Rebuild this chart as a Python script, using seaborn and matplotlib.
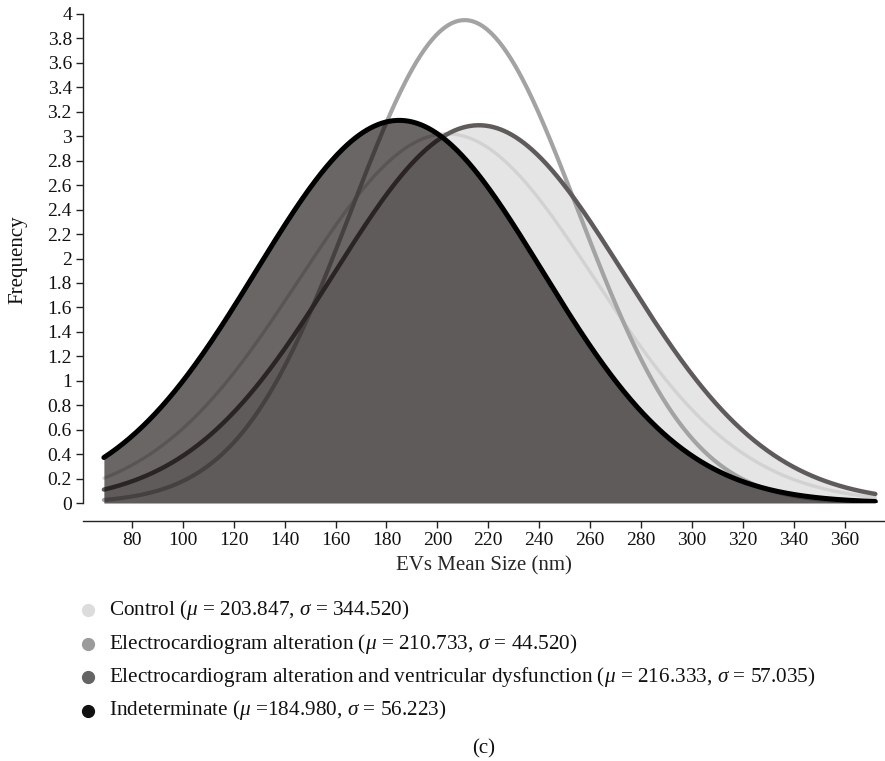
import numpy as np
import pandas as pd
import matplotlib
matplotlib.use("Agg")
import matplotlib.pyplot as plt
import seaborn as sns
from matplotlib.lines import Line2D

# ---------------- data ----------------
groups = ["Control",
          "Electrocardiogram alteration",
          "Electrocardiogram alteration and ventricular dysfunction",
          "Indeterminate"]
legend_mu = ["203.847", "210.733", "216.333", "184.980"]
legend_sigma = ["344.520", "44.520", "57.035", "56.223"]
# curve parameters
curve_mu = [203.8, 210.7, 216.3, 185.0]
curve_sigma = [58.0, 44.5, 57.0, 56.2]
curve_peak = [3.02, 3.95, 3.09, 3.13]
x_start, x_end = 69, 372
x_ticks = [80, 100, 120, 140, 160, 180, 200, 220, 240, 260, 280, 300, 320, 340, 360]
y_ticks = [0, 0.2, 0.4, 0.6, 0.8, 1, 1.2, 1.4, 1.6, 1.8, 2, 2.2, 2.4, 2.6, 2.8,
           3, 3.2, 3.4, 3.6, 3.8, 4]
y_tick_labels = ["0", "0.2", "0.4", "0.6", "0.8", "1", "1.2", "1.4", "1.6", "1.8", "2",
                 "2.2", "2.4", "2.6", "2.8", "3", "3.2", "3.4", "3.6", "3.8", "4"]

# ---------------- style ----------------
sns.set_theme(style="white")
plt.rcParams["font.family"] = ["Liberation Serif", "DejaVu Serif"]
plt.rcParams["mathtext.fontset"] = "custom"
plt.rcParams["mathtext.it"] = "Liberation Serif:italic"
plt.rcParams["mathtext.rm"] = "Liberation Serif"

W, H = 885, 761
fig = plt.figure(figsize=(W / 100, H / 100), dpi=100)
ax = fig.add_axes([83 / W, 1 - 503 / H, (W - 83) / W, (503 - 14) / H])

xs = np.linspace(x_start, x_end, 600)
frames = []
for g, m, s, p in zip(groups, curve_mu, curve_sigma, curve_peak):
    frames.append(pd.DataFrame({"x": xs, "y": p * np.exp(-0.5 * ((xs - m) / s) ** 2), "group": g}))
df = pd.concat(frames, ignore_index=True)

line_colors = ["#cfcfcf", "#a3a3a3", "#5f5b5b", "#000000"]
line_widths = [2.4, 3.0, 3.2, 3.6]
line_alpha = [0.85, 1.0, 1.0, 1.0]
line_z = [3, 3.2, 3.5, 6]

for i, g in enumerate(groups):
    d = df[df["group"] == g]
    sns.lineplot(data=d, x="x", y="y", ax=ax, color=line_colors[i], lw=line_widths[i],
                 alpha=line_alpha[i], zorder=line_z[i], legend=False)

d = df[df["group"] == groups[2]]
ax.fill_between(d["x"], 0, d["y"], color="black", alpha=0.1, lw=0, zorder=2)
d = df[df["group"] == groups[3]]
ax.fill_between(d["x"], 0, d["y"], color="#080000", alpha=0.6, lw=0, zorder=5)

ax.set_xlim(60.8, 375.8)
ax.set_ylim(0, 4)
ax.set_xticks(x_ticks)
ax.set_xticklabels([str(t) for t in x_ticks])
ax.set_yticks(y_ticks)
ax.set_yticklabels(y_tick_labels)

for sp in ["top", "right"]:
    ax.spines[sp].set_visible(False)
for sp in ["left", "bottom"]:
    ax.spines[sp].set_color("#222222")
    ax.spines[sp].set_linewidth(1.0)
ax.spines["left"].set_bounds(0, 4)
ax.spines["bottom"].set_position(("outward", 13))

ax.tick_params(axis="both", direction="out", length=5, width=1, color="#222222",
               labelsize=14, labelcolor="#111111", pad=3,
               bottom=True, left=True)
ax.set_xlabel("EVs Mean Size (nm)", fontsize=15, labelpad=5)
ax.set_ylabel("")
fig.text(18 / W, 1 - 260 / H, "Frequency", fontsize=15, rotation=90,
         va="center", ha="center", color="#111111")
ax.grid(False)

# legend below the plot
legend_rows_y = [610, 643.5, 677, 710.5]
marker_colors = ["#dcdcdc", "#9b9b9b", "#646464", "#111111"]
labels = [
    f"Control ($\\mu$ = {legend_mu[0]}, $\\sigma$ = {legend_sigma[0]})",
    f"Electrocardiogram alteration ($\\mu$ = {legend_mu[1]}, $\\sigma$ = {legend_sigma[1]})",
    f"Electrocardiogram alteration and ventricular dysfunction ($\\mu$ = {legend_mu[2]}, $\\sigma$ = {legend_sigma[2]})",
    f"Indeterminate ($\\mu$ ={legend_mu[3]}, $\\sigma$ = {legend_sigma[3]})",
]
for yy, c, lab in zip(legend_rows_y, marker_colors, labels):
    fig.add_artist(Line2D([88 / W], [1 - yy / H], marker="o", ms=8.5, color=c, lw=0,
                          transform=fig.transFigure))
    fig.text(109 / W, 1 - yy / H, lab, fontsize=15.3, va="center", ha="left", color="#111111")

fig.text(484 / W, 1 - 749 / H, "(c)", fontsize=15, va="center", ha="center", color="#111111")

fig.savefig("out.png", dpi=100)
